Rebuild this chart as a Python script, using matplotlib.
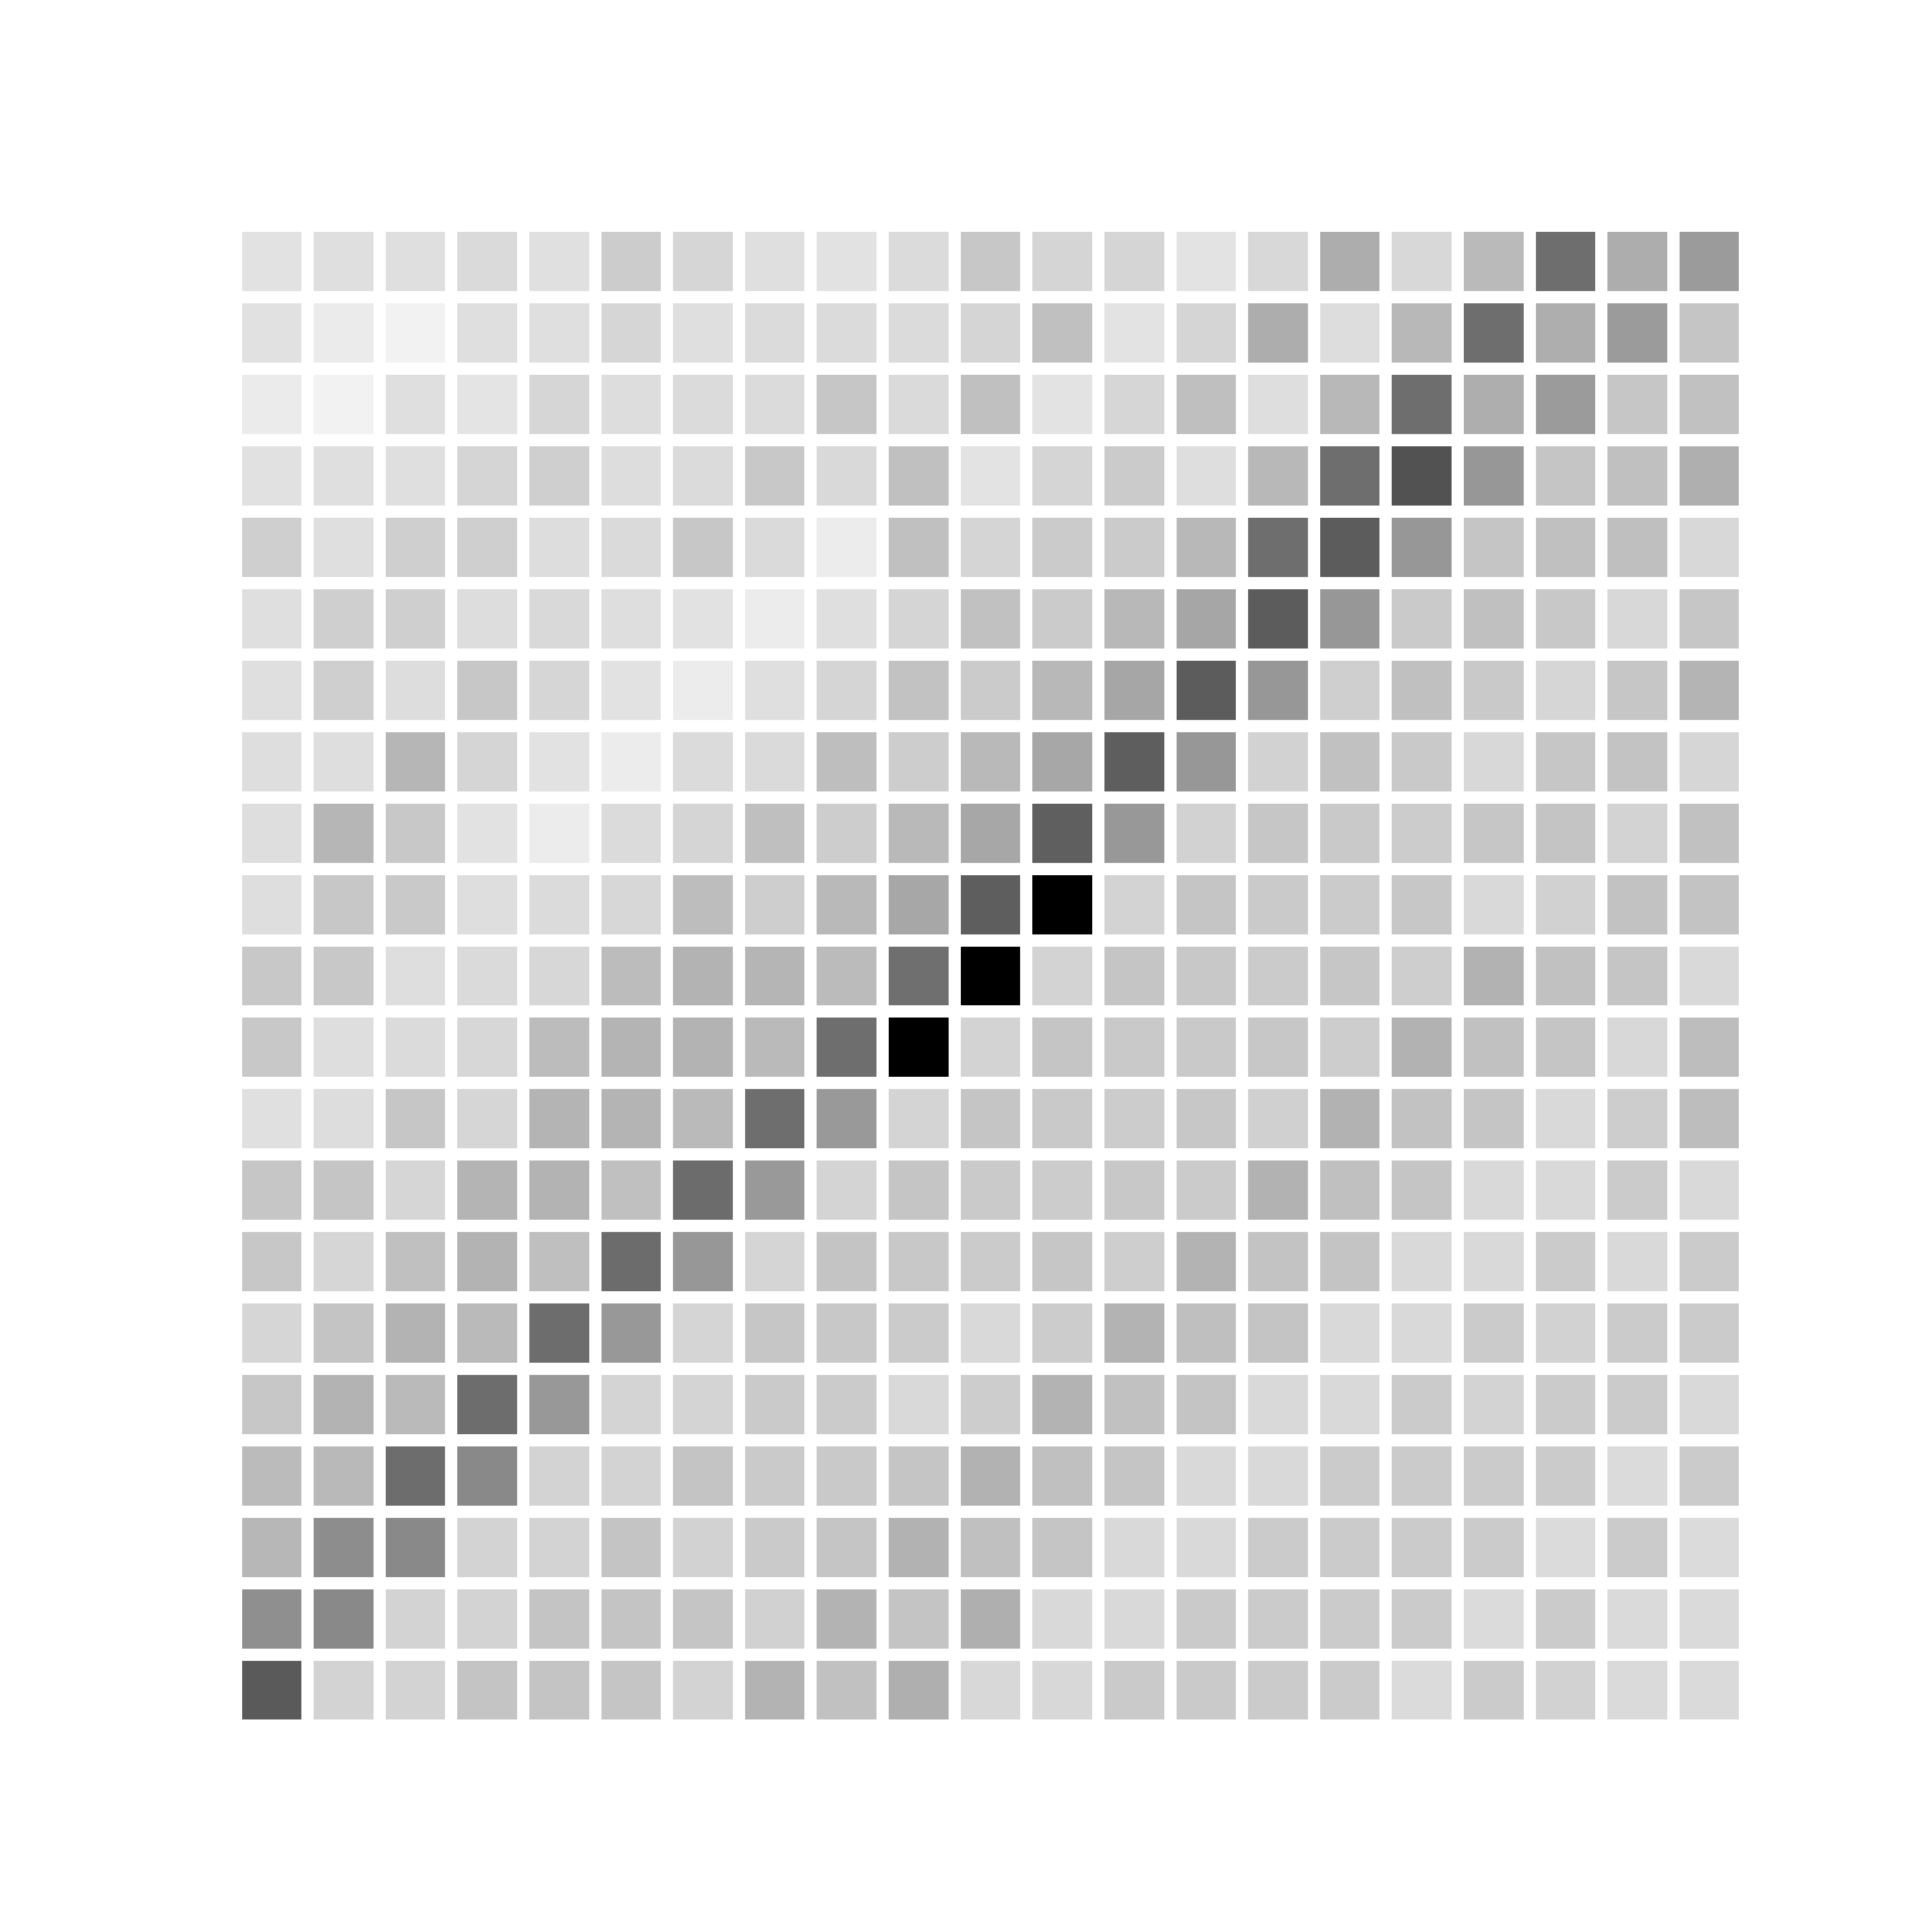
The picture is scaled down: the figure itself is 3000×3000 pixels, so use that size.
"""
Grey heatmap of a 21x21 matrix, cells split by white gaps, no axes.
"""

import numpy as np
import matplotlib.pyplot as plt

# grey level of each cell (0 = black, 255 = white), row 0 is the top row
ROWS = [
    "E2 DF DF DA E0 CC D6 DF E2 DB C7 D5 D5 E3 D8 AD D8 BA 6E AD 9B",
    "E1 EB F2 DF DF D6 DF DB DB DB D5 C0 E3 D5 AD DD B8 6E AE 9B C5",
    "EB F2 DF E4 D6 DD DB DB C6 DA C0 E3 D6 BF DE B8 6E AE 9B C6 C1",
    "E1 DF DF D5 CF DD DB C8 D9 C0 E3 D5 CB DE B8 6E 52 97 C5 C0 AF",
    "CF DF CF CF DD DA C7 DA EC C0 D5 CB CB B8 6E 5C 97 C5 C0 BF D8",
    "DF CF CF DD D9 DE E2 EC DF D5 C1 CB B8 A6 5C 97 CA C0 C8 D8 C6",
    "DF CF DD C7 D6 E2 EC DF D5 C2 CB B8 A6 5C 97 CF C0 C9 D6 C6 B4",
    "DE DE B6 D5 E2 EC DB DA BE CD B9 A7 5E 97 D2 C1 C9 D8 C6 C3 D6",
    "DE B6 C8 E2 EC DB D5 BF CD B9 A7 5F 98 D2 C6 C9 CC C6 C4 D3 C1",
    "DE C7 C9 DE DB D7 BD CE B9 A7 5E 00 D3 C5 CA CB C7 D9 D1 C2 C3",
    "C8 C8 DE DA D7 BC B3 B5 BB 6F 00 D3 C5 C8 CB C6 CE B2 C1 C5 D9",
    "C8 DE DB D7 BC B4 B3 BA 6E 00 D3 C5 C9 C9 C7 CD B2 C1 C5 D8 BD",
    "E0 DD C6 D6 B4 B4 BA 6E 99 D4 C5 C9 CC C7 D0 B2 C2 C5 D9 CD BD",
    "C6 C5 D6 B4 B3 C0 6C 99 D4 C5 CA CC C8 CB B2 C0 C5 D9 D9 CB D9",
    "C7 D6 C0 B3 BF 6C 97 D5 C4 C8 CB C6 CE B3 C3 C4 D9 D9 CB D9 CB",
    "D6 C4 B3 BA 6D 98 D5 C6 C8 CB D9 CC B3 BF C4 D9 D9 CB D2 CB CB",
    "C7 B3 BA 6D 98 D4 D4 CA CB D9 CD B3 C1 C4 D9 D9 CB D3 CB CB D9",
    "BB B9 6D 89 D3 D3 C4 CA C9 C5 B2 C0 C5 D9 D9 CB CB CB CB DB CB",
    "B7 8D 89 D3 D3 C4 D2 CA C5 B2 C0 C5 D9 D9 CB CB CB CB DB CB DB",
    "8F 89 D3 D3 C4 C4 C5 D1 B3 C4 AF D9 D9 CA CB CB CB DB CB DA DA",
    "5A D3 D3 C4 C4 C5 D3 B3 C1 AF D8 D8 CA CA CB CB DB CB D2 DA DA",
]

intensity = np.array([[int(v, 16) for v in row.split()] for row in ROWS], dtype=float)


def main():
    n_rows, n_cols = intensity.shape

    fig = plt.figure(figsize=(10, 10), dpi=300)
    ax = fig.add_subplot(111)

    gap_pt = 4.56  # white gap between cells
    ax.pcolormesh(
        np.arange(n_cols + 1),
        np.arange(n_rows + 1),
        intensity,
        cmap="gray",
        vmin=0,
        vmax=255,
        edgecolors="white",
        linewidth=gap_pt,
    )

    # trim the outer half of the border lines so cells touch the axes edge
    dx = 0.085
    dy = 0.086
    ax.set_xlim(dx, n_cols - dx)
    ax.set_ylim(n_rows - dy, dy)
    ax.axis("off")

    fig.savefig("out.png", dpi=300, facecolor="white")
    plt.close(fig)


if __name__ == "__main__":
    main()
